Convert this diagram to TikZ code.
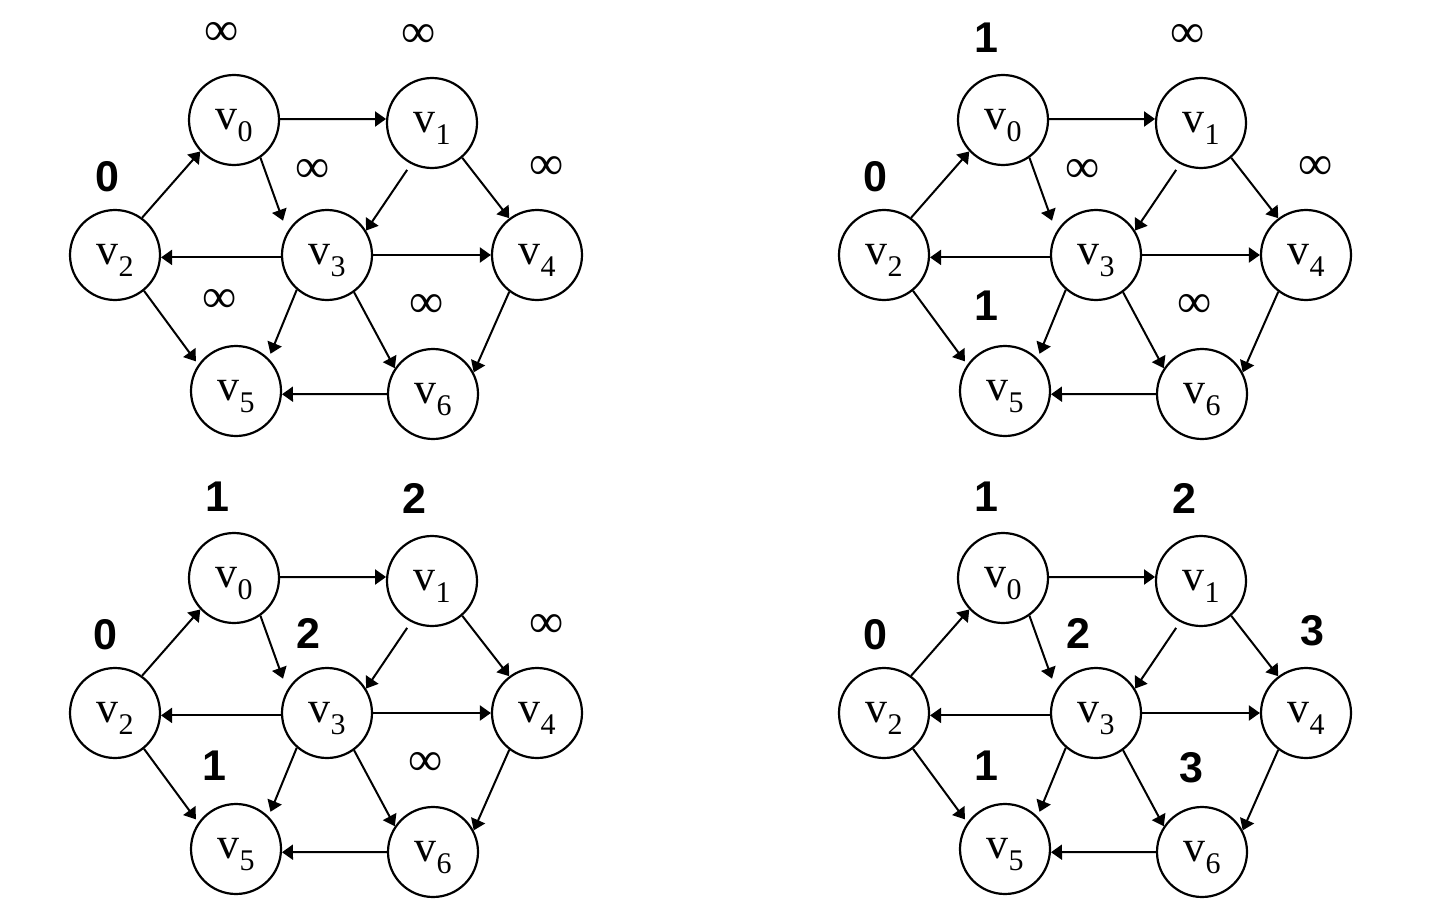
\documentclass[tikz,border=0pt]{standalone}
\usepackage{fontspec}
\setmainfont{Liberation Serif}
\newfontfamily\numfont{Liberation Sans}
\usetikzlibrary{arrows.meta}
\tikzset{
 vertex/.style={circle, draw, line width=2.2pt, minimum size=90pt, inner sep=0pt,
   text height=19pt, text depth=0pt, font=\fontsize{44}{44}\selectfont},
 edge/.style={line width=2pt, -{Triangle[length=11pt,width=15pt]}},
 inf/.style={font=\fontsize{48}{48}\selectfont, inner sep=0pt, yshift=-4pt},
 num/.style={font=\numfont\bfseries\fontsize{43}{43}\selectfont, inner sep=0pt},
}
\newcommand\vv[1]{v\raisebox{-12pt}{\fontsize{30}{30}\selectfont #1}}
\newcommand\graphpanel{%
 \node[vertex] (v0) at (234,120) {\vv0};
 \node[vertex] (v1) at (432,123) {\vv1};
 \node[vertex] (v2) at (115,255) {\vv2};
 \node[vertex] (v3) at (327,255) {\vv3};
 \node[vertex] (v4) at (537,255) {\vv4};
 \node[vertex] (v5) at (236,391) {\vv5};
 \node[vertex] (v6) at (433,394) {\vv6};
 \draw[edge] (v2.54) -- (v0.-137);
 \draw[edge] (v0.1) -- (v1.175);
 \draw[edge, shorten >=12pt] (v0.-55) -- (v3.150);
 \draw[edge, shorten <=7pt] (v1.-117) -- (v3.32);
 \draw[edge] (v1.-49) -- (v4.127);
 \draw[edge] (v3.183) -- (v2.-3);
 \draw[edge] (v3.east) -- (v4.west);
 \draw[edge, shorten >=4pt] (v2.-51) -- (v5.145);
 \draw[edge, shorten >=5pt] (v3.-131) -- (v5.45);
 \draw[edge] (v3.-54) -- (v6.146);
 \draw[edge] (v4.-127) -- (v6.28);
 \draw[edge] (v6.180) -- (v5.-4);
}
\begin{document}
\begin{tikzpicture}[x=1pt,y=-1pt]
\useasboundingbox (0,0) rectangle (1440,923);
% top left
\begin{scope}
 \graphpanel
 \node[inf] (a0) at (222,30) {∞};
 \node[inf] (a1) at (419,32) {∞};
 \node[num] (a2) at (107,177) {0};
 \node[inf] (a3) at (313,167) {∞};
 \node[inf] (a4) at (547,164) {∞};
 \node[inf] (a5) at (220,297) {∞};
 \node[inf] (a6) at (427,302) {∞};
\end{scope}
% top right
\begin{scope}[shift={(769,0)}]
 \graphpanel
 \node[num] (b0) at (217,38) {1};
 \node[inf] (b1) at (419,32) {∞};
 \node[num] (b2) at (106,177) {0};
 \node[inf] (b3) at (314,167) {∞};
 \node[inf] (b4) at (547,164) {∞};
 \node[num] (b5) at (217,306) {1};
 \node[inf] (b6) at (426,302) {∞};
\end{scope}
% bottom left
\begin{scope}[shift={(0,458)}]
 \graphpanel
 \node[num] (c0) at (217,39) {1};
 \node[num] (c1) at (414,40) {2};
 \node[num] (c2) at (105,177) {0};
 \node[num] (c3) at (308,175) {2};
 \node[inf] (c4) at (547,164) {∞};
 \node[num] (c5) at (214,308) {1};
 \node[inf] (c6) at (426,302) {∞};
\end{scope}
% bottom right
\begin{scope}[shift={(769,458)}]
 \graphpanel
 \node[num] (d0) at (217,39) {1};
 \node[num] (d1) at (415,40) {2};
 \node[num] (d2) at (106,177) {0};
 \node[num] (d3) at (309,175) {2};
 \node[num] (d4) at (543,173) {3};
 \node[num] (d5) at (217,308) {1};
 \node[num] (d6) at (422,310) {3};
\end{scope}
\end{tikzpicture}
\end{document}
